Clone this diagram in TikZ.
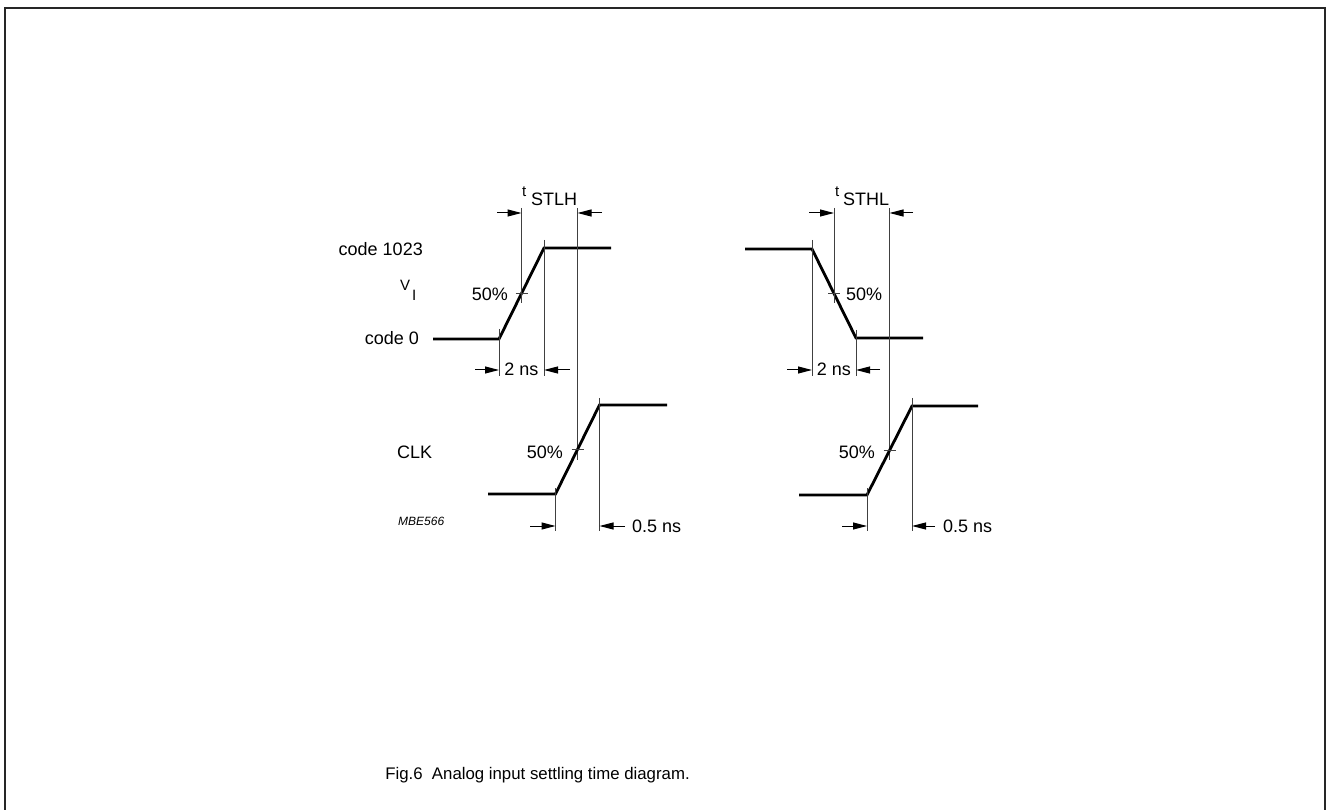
\documentclass[tikz,border=0pt]{standalone}
\usepackage{fontspec}
\setmainfont{Liberation Sans}
\usetikzlibrary{arrows.meta}
\begin{document}
\begin{tikzpicture}[x=1pt,y=-1pt,
  wave/.style={line width=2.8pt, line join=miter},
  guide/.style={line width=0.9pt, draw=black!75},
  dimarrow/.style={line width=1pt, -{Triangle[length=14pt,width=7pt]}},
  lbl/.style={inner sep=0pt, font=\fontsize{18}{20}\selectfont},
  sml/.style={inner sep=0pt, font=\fontsize{15}{17}\selectfont},
  tag/.style={inner sep=0pt, font=\fontsize{12}{14}\selectfont\itshape},
  captext/.style={inner sep=0pt, font=\fontsize{16.8}{19}\selectfont},
  framestyle/.style={line width=2.5pt, draw=black!85}
]
\useasboundingbox (0,0) rectangle (1326,810);
% frame
\coordinate (F0) at (5,815);
\coordinate (F1) at (5,8);
\coordinate (F2) at (1325,8);
\coordinate (F3) at (1325,815);
\draw[framestyle] (F0) -- (F1) -- (F2) -- (F3);

% ---------- left V_I ----------
\coordinate (A0) at (433,339);
\coordinate (A1) at (499,339);
\coordinate (A2) at (544,248);
\coordinate (A3) at (611,248);
\coordinate (AM) at (521.5,293.5);
\draw[wave] (A0) -- (A1) -- (A2) -- (A3);
% guides
\coordinate (ga1t) at (499,329); \coordinate (ga1b) at (499,376);
\coordinate (ga2t) at (544,240); \coordinate (ga2b) at (544,376);
\coordinate (gamt) at (521.5,208); \coordinate (gamb) at (521.5,303);
\coordinate (gatt) at (577.5,208); \coordinate (gatb) at (577.5,460);
\draw[guide] (ga1t) -- (ga1b);
\draw[guide] (ga2t) -- (ga2b);
\draw[guide] (gamt) -- (gamb);
\draw[guide] (gatt) -- (gatb);
\coordinate (tkal) at (515.5,293.5); \coordinate (tkar) at (527.5,293.5);
\draw[guide] (tkal) -- (tkar);
% arrows
\coordinate (aa1s) at (497,213); \coordinate (aa1e) at (521.5,213);
\coordinate (aa2s) at (602,213); \coordinate (aa2e) at (577.5,213);
\coordinate (aa3s) at (475,370); \coordinate (aa3e) at (499,370);
\coordinate (aa4s) at (570,370); \coordinate (aa4e) at (544,370);
\draw[dimarrow] (aa1s) -- (aa1e);
\draw[dimarrow] (aa2s) -- (aa2e);
\draw[dimarrow] (aa3s) -- (aa3e);
\draw[dimarrow] (aa4s) -- (aa4e);
% labels
\node[lbl, anchor=base east] (c1023) at (423,256) {code 1023};
\node[sml, anchor=base west] (vi) at (400,291) {V};
\node[sml, anchor=base west] (vis) at (412,301) {I};
\node[lbl, anchor=base east] (c0) at (419,345) {code 0};
\node[lbl, anchor=base east] (pa) at (508,301) {50\%};
\node[lbl, anchor=base] (nsa) at (521.5,376) {2 ns};
\node[sml, anchor=base west] (ta) at (522,197) {t};
\node[lbl, anchor=base west] (tas) at (531,206) {STLH};

% ---------- left CLK ----------
\coordinate (B0) at (488,494);
\coordinate (B1) at (555.5,494);
\coordinate (B2) at (599.5,405);
\coordinate (B3) at (667,405);
\coordinate (BM) at (577.5,449.5);
\draw[wave] (B0) -- (B1) -- (B2) -- (B3);
\coordinate (gb1t) at (555.5,488); \coordinate (gb1b) at (555.5,531);
\coordinate (gb2t) at (599.5,398); \coordinate (gb2b) at (599.5,531);
\draw[guide] (gb1t) -- (gb1b);
\draw[guide] (gb2t) -- (gb2b);
\coordinate (tkbl) at (571.5,449.5); \coordinate (tkbr) at (583.5,449.5);
\draw[guide] (tkbl) -- (tkbr);
\coordinate (ab1s) at (530,526); \coordinate (ab1e) at (555.5,526);
\coordinate (ab2s) at (625,526); \coordinate (ab2e) at (599.5,526);
\draw[dimarrow] (ab1s) -- (ab1e);
\draw[dimarrow] (ab2s) -- (ab2e);
\node[lbl, anchor=base west] (clk) at (397,458) {CLK};
\node[lbl, anchor=base east] (pb) at (563,458) {50\%};
\node[lbl, anchor=base west] (nsb) at (632,532) {0.5 ns};
\node[tag, anchor=base west] (mbe) at (398,525) {MBE566};

% ---------- right V_I ----------
\coordinate (C0) at (745,249);
\coordinate (C1) at (812,249);
\coordinate (C2) at (856,338);
\coordinate (C3) at (923,338);
\coordinate (CM) at (834,293.5);
\draw[wave] (C0) -- (C1) -- (C2) -- (C3);
\coordinate (gc1t) at (812,240); \coordinate (gc1b) at (812,376);
\coordinate (gc2t) at (856,330); \coordinate (gc2b) at (856,376);
\coordinate (gcmt) at (834,208); \coordinate (gcmb) at (834,303);
\coordinate (gctt) at (889.5,208); \coordinate (gctb) at (889.5,460);
\draw[guide] (gc1t) -- (gc1b);
\draw[guide] (gc2t) -- (gc2b);
\draw[guide] (gcmt) -- (gcmb);
\draw[guide] (gctt) -- (gctb);
\coordinate (tkcl) at (828,293.5); \coordinate (tkcr) at (840,293.5);
\draw[guide] (tkcl) -- (tkcr);
\coordinate (ac1s) at (809,213); \coordinate (ac1e) at (834,213);
\coordinate (ac2s) at (913,213); \coordinate (ac2e) at (889.5,213);
\coordinate (ac3s) at (787,370); \coordinate (ac3e) at (812,370);
\coordinate (ac4s) at (880,370); \coordinate (ac4e) at (856,370);
\draw[dimarrow] (ac1s) -- (ac1e);
\draw[dimarrow] (ac2s) -- (ac2e);
\draw[dimarrow] (ac3s) -- (ac3e);
\draw[dimarrow] (ac4s) -- (ac4e);
\node[lbl, anchor=base west] (pc) at (846,301) {50\%};
\node[lbl, anchor=base] (nsc) at (834,376) {2 ns};
\node[sml, anchor=base west] (tc) at (835,197) {t};
\node[lbl, anchor=base west] (tcs) at (843,206) {STHL};

% ---------- right CLK ----------
\coordinate (D0) at (799,495);
\coordinate (D1) at (867,495);
\coordinate (D2) at (912,406);
\coordinate (D3) at (978,406);
\coordinate (DM) at (889.5,450.5);
\draw[wave] (D0) -- (D1) -- (D2) -- (D3);
\coordinate (gd1t) at (867,488); \coordinate (gd1b) at (867,531);
\coordinate (gd2t) at (912,398); \coordinate (gd2b) at (912,531);
\draw[guide] (gd1t) -- (gd1b);
\draw[guide] (gd2t) -- (gd2b);
\coordinate (tkdl) at (883.5,450.5); \coordinate (tkdr) at (895.5,450.5);
\draw[guide] (tkdl) -- (tkdr);
\coordinate (ad1s) at (842,526); \coordinate (ad1e) at (867,526);
\coordinate (ad2s) at (935,526); \coordinate (ad2e) at (912,526);
\draw[dimarrow] (ad1s) -- (ad1e);
\draw[dimarrow] (ad2s) -- (ad2e);
\node[lbl, anchor=base east] (pd) at (875,458) {50\%};
\node[lbl, anchor=base west] (nsd) at (943,532) {0.5 ns};

% caption
\node[captext, anchor=base] (caption) at (537.5,779) {Fig.6\ \ Analog input settling time diagram.};
\end{tikzpicture}
\end{document}
